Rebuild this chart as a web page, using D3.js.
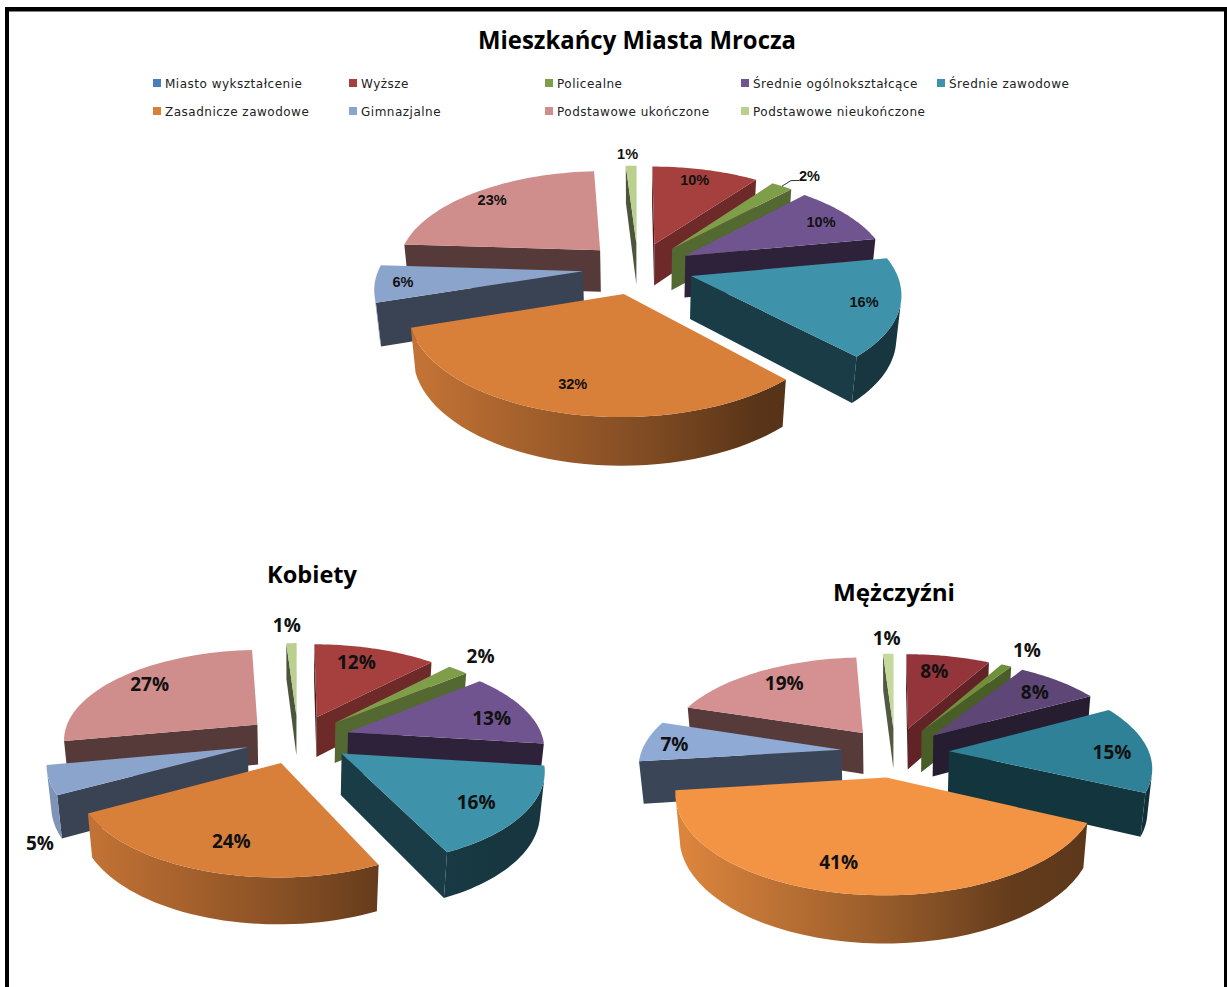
<!DOCTYPE html>
<html>
<head>
<meta charset="utf-8">
<script src="https://cdnjs.cloudflare.com/ajax/libs/d3/7.8.5/d3.min.js"></script>
<style>
  html, body { margin: 0; padding: 0; background: #fff; }
  svg { display: block; }
</style>
</head>
<body>
<div id="chart-container"></div>
<script>
// Categories and values
const categories = ["Wyższe", "Policealne", "Średnie ogólnokształcące", "Średnie zawodowe", "Zasadnicze zawodowe", "Gimnazjalne", "Podstawowe ukończone", "Podstawowe nieukończone"];
const legendLabels = ["Miasto wykształcenie", "Wyższe", "Policealne", "Średnie ogólnokształcące", "Średnie zawodowe", "Zasadnicze zawodowe", "Gimnazjalne", "Podstawowe ukończone", "Podstawowe nieukończone"];
const mainValues = [10, 2, 10, 16, 32, 6, 23, 1];
const womenValues = [12, 2, 13, 16, 24, 5, 27, 1];
const menValues = [8, 1, 8, 15, 41, 7, 19, 1];

// Colours
const legendColors = ["#4a7ebb", "#a5403e", "#7f9e4a", "#6f5490", "#3e93ab", "#d87f3a", "#8ba4cc", "#cf8d8c", "#b9d08f"];
const sliceColors = ["#a5403e", "#7f9e4a", "#6f5490", "#3e93ab", "#d87f3a", "#8ba4cc", "#cf8d8c", "#b9d08f"];
const menColors = ["#93353a", "#6f8f3a", "#5e4677", "#2f8198", "#f39344", "#8eaad5", "#d59091", "#c5d99d"];

// One entry per pie: geometry of the fake 3D view and label tweaks
const pies = [
  { id: "main", title: "Mieszkańcy Miasta Mrocza", values: mainValues, colors: sliceColors,
    cx: 638, cy: 268, R: 204, tilt: 0.47, f: 5.9, explode: 0.27, h: 0.24,
    font: "bold 14.5px 'Liberation Sans', sans-serif", leader: 1,
    labelR: [.7, .7, .7, .7, .7, .7, .7, .7], labelDx: [3, 58, 21, 29, -8, -35, -19, -5], labelDy: [-10, -28, -4, 4, 11, 2, -8, -33] },
  { id: "women", title: "Kobiety", values: womenValues, colors: sliceColors,
    cx: 298, cy: 739, R: 195, tilt: 0.46, f: 6, explode: 0.27, h: 0.24,
    font: "bold 19px 'Open Sans', sans-serif",
    labelR: [.7, .7, .7, .7, .7, .7, .7, .7], labelDx: [-3, 57, 19, 11, 1, -71, -11, -6], labelDy: [-6, -29, 2, 7, 6, 73, -6, -38] },
  { id: "men", title: "Mężczyźni", values: menValues, colors: menColors,
    cx: 895, cy: 752, R: 200, tilt: 0.46, f: 6, explode: 0.27, h: 0.24,
    font: "bold 19px 'Open Sans', sans-serif",
    labelR: [.7, .7, .7, .7, .7, .7, .7, .7], labelDx: [-3, 44, 11, 24, -21, -30, -4, -3], labelDy: [-5, -34, -4, 3, 7, 0, -6, -36] }
];

const W = 1227, H = 987;
const svg = d3.select("#chart-container").append("svg").attr("width", W).attr("height", H);
const defs = svg.append("defs");

// Frame, it runs off the bottom of the picture
svg.append("rect").attr("x", 5).attr("y", 7).attr("width", 4).attr("height", 980);
svg.append("rect").attr("x", 5).attr("y", 7).attr("width", 1222).attr("height", 4.5);
svg.append("rect").attr("x", 1224).attr("y", 7).attr("width", 3).attr("height", 980);

// Titles
svg.append("text").attr("x", 637).attr("y", 49).attr("text-anchor", "middle")
  .style("font", "bold 25px 'Open Sans', sans-serif").attr("textLength", 318).attr("lengthAdjust", "spacingAndGlyphs")
  .text(pies[0].title);
svg.append("text").attr("x", 312).attr("y", 583).attr("text-anchor", "middle")
  .style("font", "bold 24px 'Open Sans', sans-serif").attr("textLength", 90).attr("lengthAdjust", "spacingAndGlyphs")
  .text(pies[1].title);
svg.append("text").attr("x", 894).attr("y", 601).attr("text-anchor", "middle")
  .style("font", "bold 24px 'Open Sans', sans-serif").attr("textLength", 122).attr("lengthAdjust", "spacingAndGlyphs")
  .text(pies[2].title);

// Legend
const legendX = d3.scalePoint().domain(d3.range(5)).range([153, 937]);
const legend = svg.append("g").selectAll("g").data(legendLabels).join("g")
  .attr("transform", (d, i) => `translate(${legendX(i % 5)},${i < 5 ? 83 : 111})`);
legend.append("rect").attr("x", 0).attr("y", -4).attr("width", 8).attr("height", 8)
  .attr("fill", (d, i) => legendColors[i]);
legend.append("text").attr("x", 12).attr("y", 4.5)
  .style("font", "12px 'DejaVu Sans', sans-serif").style("letter-spacing", "0.5px")
  .attr("fill", "#222").text(d => d);

const line = d3.line();

function drawPie(p) {
  const g = svg.append("g").attr("class", "pie-" + p.id);
  const cosE = Math.sqrt(1 - p.tilt * p.tilt);

  // world: x right, y away from viewer, z up. Angle t runs clockwise from the back
  const project = (x, y, z) => {
    const v = y * p.tilt + z * cosE;
    const d = y * cosE - z * p.tilt;
    const s = p.f / (p.f + d);
    return [p.cx + p.R * x * s, p.cy - p.R * v * s];
  };
  const cam = [0, -p.f * cosE, p.f * p.tilt];

  const arcs = d3.pie().sort(null).startAngle(0).endAngle(2 * Math.PI)(p.values);
  const order = arcs.map((a, i) => ({ a, i, m: (a.startAngle + a.endAngle) / 2 }))
    .sort((u, v) => Math.cos(v.m) - Math.cos(u.m));

  order.forEach(({ a, i, m }) => {
    const ox = p.explode * Math.sin(m), oy = p.explode * Math.cos(m);
    const base = d3.color(p.colors[i]);
    const rim = t => [ox + Math.sin(t), oy + Math.cos(t)];
    const ts = d3.range(0, 41).map(k => a.startAngle + (a.endAngle - a.startAngle) * k / 40);

    // radial walls, only the ones turned towards the camera
    [[a.startAngle, -1], [a.endAngle, 1]].forEach(([t, sign]) => {
      const nx = sign * Math.cos(t), ny = -sign * Math.sin(t);
      if (nx * (cam[0] - ox) + ny * (cam[1] - oy) <= 0) return;
      const [rx, ry] = rim(t);
      const k = nx > 0.5 ? 0.66 : 0.41;
      g.append("path")
        .attr("d", line([project(ox, oy, 0), project(rx, ry, 0), project(rx, ry, -p.h), project(ox, oy, -p.h)]) + "Z")
        .attr("fill", d3.rgb(base.r * k, base.g * k, base.b * k).formatHex());
    });

    // outer wall with the light coming from the left
    const front = ts.filter(t => {
      const [rx, ry] = rim(t);
      return Math.sin(t) * (cam[0] - rx) + Math.cos(t) * (cam[1] - ry) > 0;
    });
    if (front.length > 1) {
      const gid = `rim-${p.id}-${i}`;
      const grad = defs.append("linearGradient").attr("id", gid).attr("gradientUnits", "userSpaceOnUse")
        .attr("x1", p.cx - p.R * 1.05).attr("x2", p.cx + p.R * 1.05).attr("y1", 0).attr("y2", 0);
      [[0, .9], [.46, .63], [.64, .51], [.78, .41], [1, .37]].forEach(([o, k]) => {
        grad.append("stop").attr("offset", o)
          .attr("stop-color", d3.rgb(base.r * k, base.g * k, base.b * k).formatHex());
      });
      const upper = front.map(t => project(...rim(t), 0));
      const lower = front.map(t => project(...rim(t), -p.h)).reverse();
      g.append("path").attr("d", line(upper.concat(lower)) + "Z").attr("fill", `url(#${gid})`);
    }

    // top face
    const top = [project(ox, oy, 0)].concat(ts.map(t => project(...rim(t), 0)));
    g.append("path").attr("d", line(top) + "Z").attr("fill", p.colors[i]);
  });

  // labels go last so that nothing covers them
  arcs.forEach((a, i) => {
    const m = (a.startAngle + a.endAngle) / 2;
    const r = p.labelR[i] + p.explode;
    const [lx, ly] = project(r * Math.sin(m), r * Math.cos(m), 0);
    const tx = lx + p.labelDx[i], ty = ly + p.labelDy[i];
    if (p.leader === i) {
      const o = 1 + p.explode;
      const [sx, sy] = project(o * Math.sin(m), o * Math.cos(m), 0);
      g.append("path").attr("d", line([[sx, sy], [sx + 9, ty + 5], [tx - 10, ty + 5]]))
        .attr("fill", "none").attr("stroke", "#333").attr("stroke-width", 1);
    }
    g.append("text").attr("x", tx).attr("y", ty)
      .attr("text-anchor", "middle").attr("dominant-baseline", "central")
      .style("font", p.font).attr("fill", "#111").text(p.values[i] + "%");
  });
}

pies.forEach(drawPie);
</script>
</body>
</html>
